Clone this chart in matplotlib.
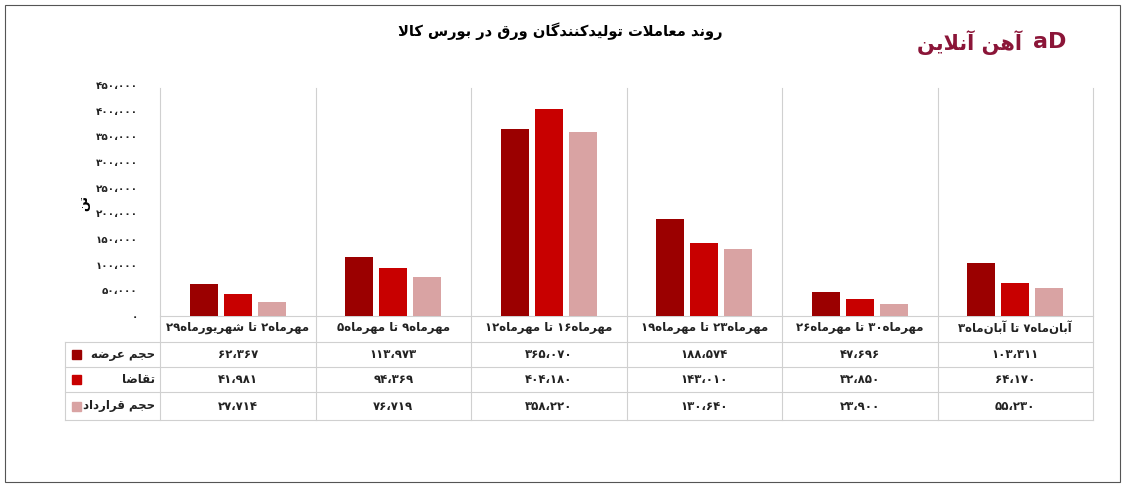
import matplotlib
matplotlib.use("Agg")
import matplotlib.pyplot as plt
import matplotlib.transforms as mtrans
from matplotlib.patches import Rectangle

categories = ["۲۹شهریورماه تا ۲مهرماه", "۵مهرماه تا ۹مهرماه", "۱۲مهرماه تا ۱۶مهرماه",
              "۱۹مهرماه تا ۲۳مهرماه", "۲۶مهرماه تا ۳۰مهرماه", "۳آبان\u200cماه تا ۷آبان\u200cماه"]
series_names = ["حجم عرضه", "تقاضا", "حجم قرارداد"]
offer = [62367, 113973, 365070, 188574, 47696, 103311]
demand = [41981, 94369, 404180, 143010, 32850, 64170]
contract = [27714, 76719, 358220, 130640, 23900, 55230]
yticks = [0, 50000, 100000, 150000, 200000, 250000, 300000, 350000, 400000, 450000]
title = "روند معاملات تولیدکنندگان ورق در بورس کالا"
ylabel = "تن"
logo = "آهن آنلاین"
colors = ["#9b0000", "#c80000", "#d9a3a3"]

# ---- minimal Persian shaping ----
F = {
 'ا': (0xFE8D, 0xFE8E, None, None), 'آ': (0xFE81, 0xFE82, None, None),
 'ب': (0xFE8F, 0xFE90, 0xFE91, 0xFE92), 'پ': (0xFB56, 0xFB57, 0xFB58, 0xFB59),
 'ت': (0xFE95, 0xFE96, 0xFE97, 0xFE98), 'ث': (0xFE99, 0xFE9A, 0xFE9B, 0xFE9C),
 'ج': (0xFE9D, 0xFE9E, 0xFE9F, 0xFEA0), 'چ': (0xFB7A, 0xFB7B, 0xFB7C, 0xFB7D),
 'ح': (0xFEA1, 0xFEA2, 0xFEA3, 0xFEA4), 'خ': (0xFEA5, 0xFEA6, 0xFEA7, 0xFEA8),
 'د': (0xFEA9, 0xFEAA, None, None), 'ذ': (0xFEAB, 0xFEAC, None, None),
 'ر': (0xFEAD, 0xFEAE, None, None), 'ز': (0xFEAF, 0xFEB0, None, None),
 'ژ': (0xFB8A, 0xFB8B, None, None),
 'س': (0xFEB1, 0xFEB2, 0xFEB3, 0xFEB4), 'ش': (0xFEB5, 0xFEB6, 0xFEB7, 0xFEB8),
 'ص': (0xFEB9, 0xFEBA, 0xFEBB, 0xFEBC), 'ض': (0xFEBD, 0xFEBE, 0xFEBF, 0xFEC0),
 'ط': (0xFEC1, 0xFEC2, 0xFEC3, 0xFEC4), 'ظ': (0xFEC5, 0xFEC6, 0xFEC7, 0xFEC8),
 'ع': (0xFEC9, 0xFECA, 0xFECB, 0xFECC), 'غ': (0xFECD, 0xFECE, 0xFECF, 0xFED0),
 'ف': (0xFED1, 0xFED2, 0xFED3, 0xFED4), 'ق': (0xFED5, 0xFED6, 0xFED7, 0xFED8),
 'ک': (0xFB8E, 0xFB8F, 0xFB90, 0xFB91), 'گ': (0xFB92, 0xFB93, 0xFB94, 0xFB95),
 'ل': (0xFEDD, 0xFEDE, 0xFEDF, 0xFEE0), 'م': (0xFEE1, 0xFEE2, 0xFEE3, 0xFEE4),
 'ن': (0xFEE5, 0xFEE6, 0xFEE7, 0xFEE8), 'و': (0xFEED, 0xFEEE, None, None),
 'ه': (0xFEE9, 0xFEEA, 0xFEEB, 0xFEEC), 'ی': (0xFBFC, 0xFBFD, 0xFBFE, 0xFBFF),
}

def shape(s):
    out = []
    chars = list(s)
    i = 0
    n = len(chars)
    def joins_prev(k):
        return k - 1 >= 0 and chars[k-1] in F and F[chars[k-1]][2] is not None
    while i < n:
        c = chars[i]
        if c not in F:
            if c != '\u200c':
                out.append(c)
            i += 1
            continue
        jp = joins_prev(i)
        if c == 'ل' and i + 1 < n and chars[i+1] in ('ا', 'آ'):
            if chars[i+1] == 'ا':
                out.append(chr(0xFEFC if jp else 0xFEFB))
            else:
                out.append(chr(0xFEF6 if jp else 0xFEF5))
            i += 2
            continue
        iso, fin, ini, med = F[c]
        jn = ini is not None and i + 1 < n and chars[i+1] in F
        if jp and jn:
            out.append(chr(med))
        elif jp:
            out.append(chr(fin))
        elif jn:
            out.append(chr(ini))
        else:
            out.append(chr(iso))
        i += 1
    return out

def fa(s):
    sh = shape(s)
    tokens = []
    for ch in sh:
        isd = ch.isdigit() or ch == '،'
        if tokens and tokens[-1][0] == isd:
            tokens[-1][1].append(ch)
        else:
            tokens.append([isd, [ch]])
    res = []
    for isd, chs in reversed(tokens):
        res.append(''.join(chs) if isd else ''.join(reversed(chs)))
    return ''.join(res)

def fa_words(s):
    # reproduces the reference rendering: words left-to-right, digits before letters
    out = []
    for w in s.split(' '):
        d = ''.join(c for c in w if c.isdigit())
        rest = ''.join(c for c in w if not c.isdigit())
        out.append(d + fa(rest))
    return ' '.join(out)

PD = str.maketrans("0123456789,", "۰۱۲۳۴۵۶۷۸۹،")
def num(v):
    return f"{v:,}".translate(PD)

plt.rcParams['font.family'] = ['DejaVu Sans']
W, H = 1127, 487
fig = plt.figure(figsize=(W/100, H/100), dpi=100)
fig.patch.set_facecolor('white')
fig.add_artist(Rectangle((5/W, 5/H), 1115/W, 477/H, transform=fig.transFigure,
                         fill=False, edgecolor='#555555', lw=0.8))

L, R, T, B = 160, 1093, 85, 316
ax = fig.add_axes([L/W, 1-B/H, (R-L)/W, (B-T)/H])
ax.set_xlim(-0.5, 5.5)
ax.set_ylim(0, 450000)
for s in ax.spines.values():
    s.set_visible(False)
ax.set_xticks([])
ax.set_yticks(yticks)
ax.set_yticklabels([num(v) for v in yticks], fontsize=7.5, fontweight='bold', color='#222222')
ax.tick_params(axis='y', length=0, pad=16)

x = list(range(len(categories)))
off, bw = 0.22, 0.18
for k, vals in enumerate([offer, demand, contract]):
    ax.bar([xi + (k-1)*off for xi in x], vals, width=bw, color=colors[k], zorder=3)

bt = mtrans.blended_transform_factory(ax.transData, fig.transFigure)
fy = lambda p: 1 - p/H
fig.text(84/W, fy(203), fa(ylabel), rotation=90, ha='center', va='center', fontsize=9, fontweight='bold')
gc = '#d0d0d0'
for b in [i - 0.5 for i in range(len(categories)+1)]:
    ax.plot([b, b], [fy(88), fy(420)], transform=bt, color=gc, lw=0.8, clip_on=False)
row_y = [342, 367, 392, 420]
xl = (65 - L) / ((R-L)/6) - 0.5
for yy in row_y:
    ax.plot([xl, 5.5], [fy(yy), fy(yy)], transform=bt, color=gc, lw=0.8, clip_on=False)
ax.plot([xl, xl], [fy(342), fy(420)], transform=bt, color=gc, lw=0.8, clip_on=False)
ax.plot([-0.5, 5.5], [fy(B), fy(B)], transform=bt, color=gc, lw=0.8, clip_on=False)

for i, c in enumerate(categories):
    ax.text(i, fy(328), fa_words(c), transform=bt, ha='center', va='center', fontsize=8.5,
            fontweight='bold', color='#222222')
for r, vals in enumerate([offer, demand, contract]):
    yc = fy((row_y[r] + row_y[r+1]) / 2)
    ax.text(-0.5 - 0.03, yc, fa(series_names[r]), transform=bt, ha='right', va='center',
            fontsize=8.5, fontweight='bold', color='#222222')
    fig.add_artist(Rectangle((72/W, yc - 4.5/H), 9/W, 9/H, transform=fig.transFigure,
                             color=colors[r]))
    for i, v in enumerate(vals):
        ax.text(i, yc, num(v), transform=bt, ha='center', va='center', fontsize=8.5,
                fontweight='bold', color='#222222')

fig.text(560/W, fy(31), fa(title), ha='center', va='center', fontsize=10.5, fontweight='bold')
fig.text(1022/W, fy(43), fa(logo), ha='right', va='center', fontsize=15, fontweight='bold',
         color='#8b1538')
fig.text(1050/W, fy(42), "aD", ha='center', va='center', fontsize=16, fontweight='bold',
         color='#8b1538')

fig.savefig("out.png", dpi=100)
